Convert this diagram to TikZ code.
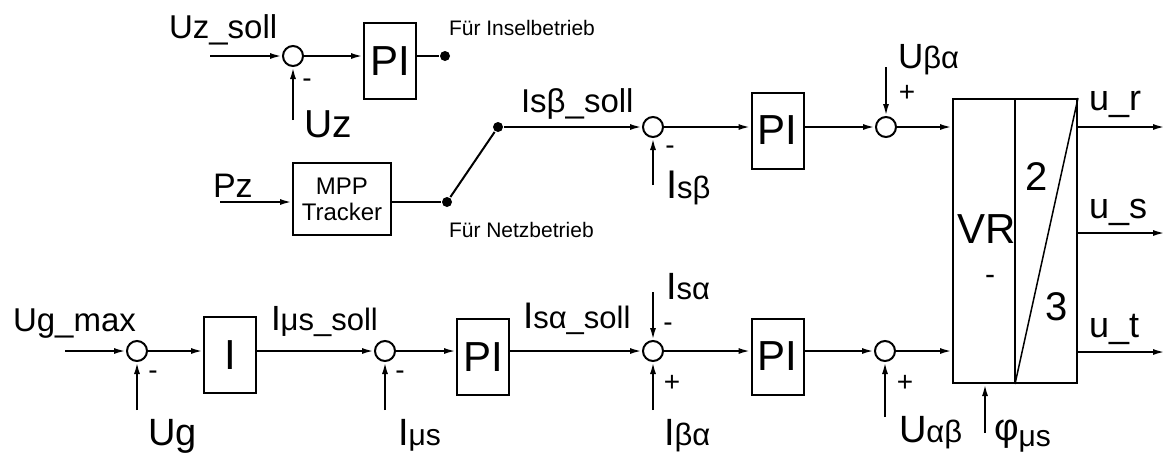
\documentclass[tikz,border=0pt]{standalone}
\usepackage{fontspec}
\setmainfont{Liberation Sans}
\usetikzlibrary{arrows.meta,calc}
\newcommand\myfs[1]{\fontsize{#1}{#1}\selectfont}
\begin{document}
\begin{tikzpicture}[x=1pt,y=-1pt, line width=2pt,
  >={Latex[length=12pt,width=6pt]},
  sum/.style={circle,draw,minimum size=20pt,inner sep=0pt},
  blk/.style={draw,minimum width=52pt,minimum height=76pt,inner sep=0pt,font=\myfs{42}},
  dot/.style={circle,fill,inner sep=0pt,minimum size=10pt},
  lbl/.style={inner sep=0pt,anchor=base west},
  sgn/.style={inner sep=0pt,font=\myfs{28}}]
\useasboundingbox (0,0) rectangle (1165,456);

% ---- top row: Uz control ----
\coordinate (in1) at (210,56);
\node[sum] (c1) at (293,56) {};
\node[blk] (pi1) at (390,61) {PI};
\node[dot] (d1) at (445,56) {};
\coordinate (uz) at (293,120);
\draw[->] (in1) -- (c1);
\draw[->] (c1) -- (c1 -| pi1.west);
\draw (pi1.east |- c1) -- (d1);
\draw[->] (uz) -- (c1);
\node[lbl,font=\myfs{33}] (l_uzs) at (168,38) {Uz\_soll};
\node[lbl,font=\myfs{39}] (l_uz) at (303,137) {Uz};
\node[sgn] (m1) at (307,83) {-};
\node[lbl,font=\myfs{21}] (l_ins) at (448,35) {Für Inselbetrieb};

% ---- MPP and switch ----
\node[draw,minimum width=98pt,minimum height=72pt,inner sep=0pt,align=center,
      font=\fontsize{24}{26}\selectfont] (mpp) at (342,199) {MPP\\Tracker};
\coordinate (pz) at (220,202);
\node[dot] (d2) at (447,202) {};
\node[dot] (d3) at (498,127) {};
\draw[->] (pz) -- (pz -| mpp.west);
\draw (mpp.east |- d2) -- (d2);
\draw (d2) -- (d3);
\node[lbl,font=\myfs{34}] (l_pz) at (212,197) {Pz};
\node[lbl,font=\myfs{21}] (l_netz) at (448,237) {Für Netzbetrieb};

% ---- beta row ----
\node[sum] (c2) at (653,127) {};
\coordinate (isb) at (653,185);
\node[blk] (pi2) at (777.5,130.5) {PI};
\node[sum] (c3) at (886,127) {};
\coordinate (uba) at (886,67);
\draw[->] (d3) -- (c2);
\draw[->] (isb) -- (c2);
\draw[->] (c2) -- (c2 -| pi2.west);
\draw[->] (pi2.east |- c3) -- (c3);
\draw[->] (uba) -- (c3);
\node[lbl,font=\myfs{33}] (l_isbs) at (520,112) {Isβ\_soll};
\node[lbl,font=\myfs{40}] (l_isb) at (665,198) {I{\myfs{31}sβ}};
\node[sgn] (m2) at (670,150) {-};
\node[lbl,font=\myfs{35}] (l_uba) at (897,68) {U{\myfs{31}βα}};
\node[sgn] (p1) at (907,93) {+};

% ---- VR block ----
\node[draw,minimum width=124pt,minimum height=284pt,inner sep=0pt] (vr) at (1015,241) {};
\draw (vr.north) -- (vr.south);
\draw[line width=1.5pt] (vr.south) -- (vr.north east);
\node[lbl,font=\myfs{42}] (l_vr) at (956,243) {VR};
\node[sgn,font=\myfs{30}] (m_vr) at (990,280) {-};
\node[inner sep=0pt,font=\myfs{40}] (n2) at (1037,177) {2};
\node[inner sep=0pt,font=\myfs{40}] (n3) at (1057,307) {3};
\draw[->] (c3) -- (c3 -| vr.west);

% ---- outputs ----
\coordinate (o1) at (1165,127);
\coordinate (o2) at (1165,233);
\coordinate (o3) at (1165,352);
\draw[->] (vr.east |- o1) -- (o1);
\draw[->] (vr.east |- o2) -- (o2);
\draw[->] (vr.east |- o3) -- (o3);
\node[lbl,font=\myfs{36}] (l_ur) at (1088,110) {u\_r};
\node[lbl,font=\myfs{36}] (l_us) at (1088,218) {u\_s};
\node[lbl,font=\myfs{36}] (l_ut) at (1088,337) {u\_t};

% ---- bottom row ----
\coordinate (ugin) at (65,351);
\node[sum] (c4) at (137,351) {};
\node[blk] (ib) at (230,355) {I};
\node[sum] (c5) at (385,351) {};
\node[blk] (pi3) at (483,357) {PI};
\node[sum] (c6) at (653,351) {};
\node[blk] (pi4) at (777.5,356.5) {PI};
\node[sum] (c7) at (885,351) {};
\coordinate (ug) at (137,410);
\coordinate (ims) at (385,410);
\coordinate (isa) at (653,292);
\coordinate (iba) at (653,410);
\coordinate (uab) at (885,417);
\coordinate (phi) at (985,433);
\draw[->] (ugin) -- (c4);
\draw[->] (c4) -- (c4 -| ib.west);
\draw[->] (ib.east |- c5) -- (c5);
\draw[->] (c5) -- (c5 -| pi3.west);
\draw[->] (pi3.east |- c6) -- (c6);
\draw[->] (c6) -- (c6 -| pi4.west);
\draw[->] (pi4.east |- c7) -- (c7);
\draw[->] (c7) -- (c7 -| vr.west);
\draw[->] (ug) -- (c4);
\draw[->] (ims) -- (c5);
\draw[->] (isa) -- (c6);
\draw[->] (iba) -- (c6);
\draw[->] (uab) -- (c7);
\draw[->] (phi) -- (phi |- vr.south);

\node[lbl,font=\myfs{33}] (l_ugm) at (12,331) {Ug\_max};
\node[lbl,font=\myfs{38}] (l_ug) at (147,445) {Ug};
\node[sgn] (m4) at (153,375) {-};
\node[lbl,font=\myfs{35}] (l_imss) at (270,330) {I{\myfs{31}μs\_soll}};
\node[lbl,font=\myfs{38}] (l_ims) at (397,445) {I{\myfs{30}μs}};
\node[sgn] (m5) at (400,375) {-};
\node[lbl,font=\myfs{37}] (l_isas) at (522,328) {I{\myfs{31}sα\_soll}};
\node[lbl,font=\myfs{38}] (l_isa) at (665,299) {I{\myfs{31}sα}};
\node[sgn] (m6) at (668,327) {-};
\node[sgn] (p6) at (672,383) {+};
\node[lbl,font=\myfs{38}] (l_iba) at (663,445) {I{\myfs{31}βα}};
\node[sgn] (p7) at (905,383) {+};
\node[lbl,font=\myfs{38}] (l_uab) at (898,442) {U{\myfs{31}αβ}};
\node[lbl,font=\myfs{38}] (l_phi) at (993,440) {φ\raisebox{-6pt}{\myfs{30}μs}};
\end{tikzpicture}
\end{document}
